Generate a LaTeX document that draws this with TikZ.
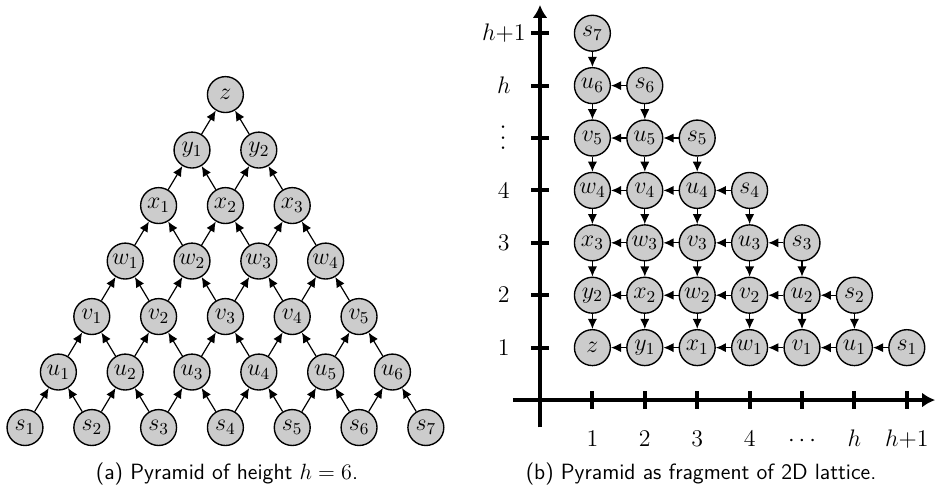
\documentclass[tikz,border=0pt]{standalone}
\usepackage{fix-cm}
\usetikzlibrary{arrows.meta}

\begin{document}
\begin{tikzpicture}[>={Latex[length=5.5pt,width=5pt]}, font=\fontsize{13}{15}\selectfont,
    vtx/.style={circle, draw, fill=black!20, line width=0.75pt, inner sep=0pt, minimum size=19.5pt},
    link/.style={->, line width=0.65pt},
    axisline/.style={-{Latex[length=7pt,width=8pt]}, line width=2.6pt},
    tickmark/.style={line width=2.2pt},
    captext/.style={anchor=base, font=\sffamily\fontsize{12}{14}\selectfont}]
  \useasboundingbox (-10.305,-1.679) rectangle (7.557,7.634);

  % (a) pyramid, level 0 = sources
  \foreach \ltr [count=\l from 0] in {s,u,v,w,x,y,z} {
    \pgfmathtruncatemacro\m{7-\l}
    \foreach \k in {1,...,\m}
      \node[vtx] (a-\l-\k) at ({-9.828+(\k-1)*1.275+\l*0.6374}, {-0.525+\l*1.059})
        {\ifnum\l=6 $z$\else $\ltr_{\k}$\fi};
  }
  \foreach \l in {1,...,6} {
    \pgfmathtruncatemacro\m{7-\l}
    \pgfmathtruncatemacro\p{\l-1}
    \foreach \k in {1,...,\m} {
      \pgfmathtruncatemacro\kk{\k+1}
      \draw[link] (a-\p-\k) -- (a-\l-\k);
      \draw[link] (a-\p-\kk) -- (a-\l-\k);
    }
  }
  \node[captext] (cap-a) at (-5.973,-1.508) {(a) Pyramid of height $h = 6$.};

  % (b) same pyramid in the lattice
  \draw[axisline] (-0.52,0) -- (7.54,0);
  \draw[axisline] (0,-0.52) -- (0,7.54);
  \foreach \t/\lbl in {1/1,2/2,3/3,4/4,5/\cdots,6/h,7/h{+}1} {
    \draw[tickmark] (\t,-0.17) -- (\t,0.17);
    \node[anchor=base] (xl-\t) at (\t,-0.88) {$\lbl$};
  }
  \foreach \t/\lbl in {1/1,2/2,3/3,4/4,6/h,7/h{+}1} {
    \draw[tickmark] (-0.17,\t) -- (0.17,\t);
    \node (yl-\t) at (-0.69,\t) {$\lbl$};
  }
  \draw[tickmark] (-0.17,5) -- (0.17,5);
  \node[rotate=90] (yl-5) at (-0.69,5) {$\cdots$};

  \foreach \ltr [count=\l from 0] in {s,u,v,w,x,y,z} {
    \pgfmathtruncatemacro\m{7-\l}
    \foreach \k in {1,...,\m}
      \node[vtx] (b-\l-\k) at ({8-\l-\k}, \k)
        {\ifnum\l=6 $z$\else $\ltr_{\k}$\fi};
  }
  \foreach \l in {1,...,6} {
    \pgfmathtruncatemacro\m{7-\l}
    \pgfmathtruncatemacro\p{\l-1}
    \foreach \k in {1,...,\m} {
      \pgfmathtruncatemacro\kk{\k+1}
      \draw[link] (b-\p-\k) -- (b-\l-\k);
      \draw[link] (b-\p-\kk) -- (b-\l-\k);
    }
  }
  \node[captext] (cap-b) at (3.073,-1.508) {(b) Pyramid as fragment of 2D lattice.};
\end{tikzpicture}
\end{document}
